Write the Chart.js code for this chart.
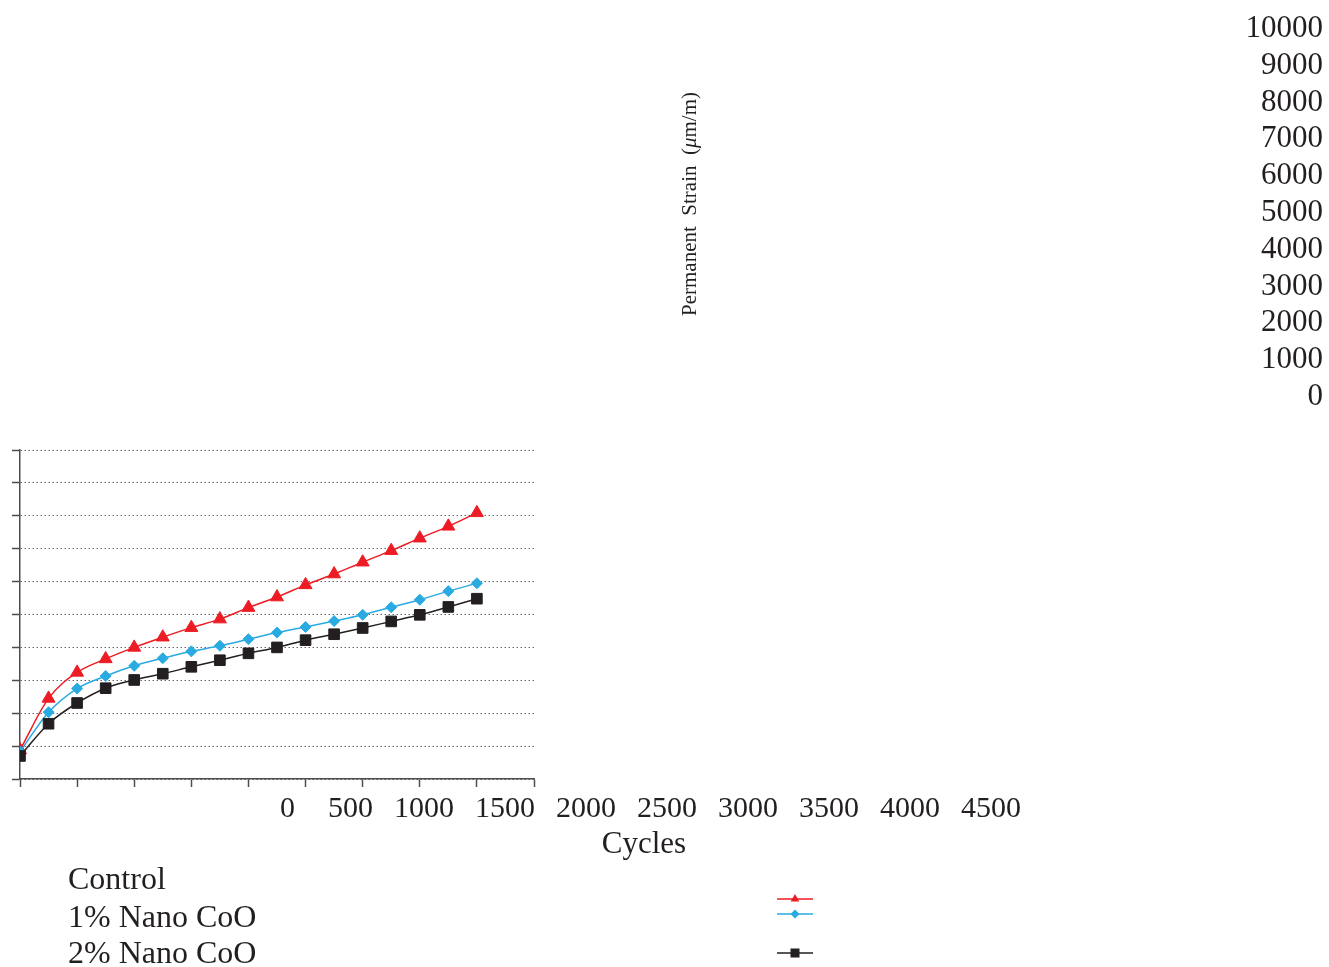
<!DOCTYPE html>
<html>
<head>
<meta charset="utf-8">
<script src="https://cdn.jsdelivr.net/npm/chart.js@4"></script>
<style>
  html, body { margin: 0; padding: 0; background: #fff; }
  #strainChart { display: block; }
</style>
</head>
<body>
<canvas id="strainChart" width="1329" height="967"></canvas>
<script>
// Cycle counts and permanent strain (um/m)
const cycles = [0, 250, 500, 750, 1000, 1250, 1500, 1750, 2000, 2250, 2500, 2750, 3000, 3250, 3500, 3750, 4000];
const control = [880, 2450, 3240, 3650, 4000, 4310, 4600, 4860, 5210, 5530, 5900, 6230, 6590, 6940, 7320, 7680, 8090];
const nano1 = [830, 2030, 2750, 3130, 3440, 3670, 3880, 4050, 4250, 4450, 4620, 4800, 4990, 5220, 5450, 5710, 5950];
const nano2 = [700, 1680, 2310, 2760, 3010, 3200, 3410, 3610, 3820, 4000, 4220, 4400, 4590, 4790, 4990, 5230, 5480];
const seriesNames = ['Control', '1% Nano CoO', '2% Nano CoO'];
const xTickLabels = [0, 500, 1000, 1500, 2000, 2500, 3000, 3500, 4000, 4500];
const yTickLabels = [0, 1000, 2000, 3000, 4000, 5000, 6000, 7000, 8000, 9000, 10000];

const serif = '"Liberation Serif", "Times New Roman", serif';
const ink = '#231f20';
const axisGrey = '#4d4d4d';
const colors = ['#ed1c24', '#29abe2', '#231f20'];
const styles = ['triangle', 'rectRot', 'rect'];
const radii = [7.5, 5.5, 7.5];

function toPoints(values) {
    return cycles.map((c, i) => ({ x: c, y: values[i] }));
}

// small marker for the legend rows
function drawMarker(c, style, x, y, r) {
    c.beginPath();
    if (style === 'triangle') {
        c.moveTo(x, y - r);
        c.lineTo(x + r * 0.866, y + r * 0.5);
        c.lineTo(x - r * 0.866, y + r * 0.5);
    } else if (style === 'rectRot') {
        c.moveTo(x, y - r);
        c.lineTo(x + r, y);
        c.lineTo(x, y + r);
        c.lineTo(x - r, y);
    } else {
        c.rect(x - r, y - r, 2 * r, 2 * r);
    }
    c.closePath();
    c.fill();
}

// the figure has its labels scattered away from the axes, drawn here
const looseLabels = {
    id: 'looseLabels',
    afterDraw(chart) {
        const c = chart.ctx;
        c.save();
        c.fillStyle = ink;
        c.textBaseline = 'alphabetic';

        // y tick labels stacked in the top right corner
        c.font = '31px ' + serif;
        c.textAlign = 'right';
        [...yTickLabels].reverse().forEach((v, i) => {
            c.fillText(String(v), 1323, 37 + i * 36.8);
        });

        // x tick labels in one row below the plot
        c.font = '30px ' + serif;
        c.textAlign = 'left';
        let x = 280;
        xTickLabels.forEach((v, i) => {
            const t = String(v);
            c.fillText(t, x, 817);
            x += c.measureText(t).width + (i === 0 ? 33 : 21);
        });

        // axis titles
        c.font = '31px ' + serif;
        c.textAlign = 'center';
        c.fillText('Cycles', 644, 853);

        c.save();
        c.translate(696, 204);
        c.rotate(-Math.PI / 2);
        const parts = [
            ['Permanent  Strain  (', '21px ' + serif],
            ['\u03bc', 'italic 21px ' + serif],
            ['m/m)', '21px ' + serif]
        ];
        let total = 0;
        parts.forEach(p => { c.font = p[1]; total += c.measureText(p[0]).width; });
        let px = -total / 2;
        c.textAlign = 'left';
        parts.forEach(p => {
            c.font = p[1];
            c.fillText(p[0], px, 0);
            px += c.measureText(p[0]).width;
        });
        c.restore();

        // legend: names on the left, keys far to the right
        const textBase = [889, 927, 963];
        const keyY = [899, 914, 953];
        const keyR = [5, 4.5, 4.5];
        c.font = '32px ' + serif;
        c.textAlign = 'left';
        seriesNames.forEach((name, i) => {
            c.fillStyle = ink;
            c.fillText(name, 68, textBase[i]);
            c.strokeStyle = colors[i];
            c.lineWidth = 1.5;
            c.beginPath();
            c.moveTo(777, keyY[i]);
            c.lineTo(813, keyY[i]);
            c.stroke();
            c.fillStyle = colors[i];
            drawMarker(c, styles[i], 795, keyY[i], keyR[i]);
        });
        c.restore();
    }
};

const allSeries = [control, nano1, nano2];
const datasets = allSeries.map((values, i) => ({
    label: seriesNames[i],
    data: toPoints(values),
    borderColor: colors[i],
    backgroundColor: colors[i],
    borderWidth: 1.5,
    pointStyle: styles[i],
    pointRadius: radii[i],
    pointBorderWidth: 1,
    pointBorderColor: colors[i],
    pointBackgroundColor: colors[i],
    cubicInterpolationMode: 'monotone',
    order: 3 - i
}));

const ctx = document.getElementById('strainChart').getContext('2d');
const strainChart = new Chart(ctx, {
    type: 'line',
    data: { datasets: datasets },
    options: {
        responsive: false,
        animation: false,
        layout: { padding: { left: 0, top: 450, right: 795, bottom: 0 } },
        plugins: {
            legend: { display: false },
            tooltip: { enabled: false }
        },
        scales: {
            x: {
                type: 'linear',
                min: xTickLabels[0],
                max: xTickLabels[xTickLabels.length - 1],
                ticks: { display: false, stepSize: 500 },
                grid: {
                    drawOnChartArea: false,
                    tickLength: 8,
                    tickColor: axisGrey,
                    tickWidth: 1.5
                },
                border: { color: axisGrey, width: 1.5 },
                afterFit: s => { s.height = 188; }
            },
            y: {
                min: yTickLabels[0],
                max: yTickLabels[yTickLabels.length - 1],
                ticks: { display: false, stepSize: 1000 },
                grid: {
                    color: '#666666',
                    lineWidth: 1,
                    tickLength: 8,
                    tickColor: axisGrey,
                    tickWidth: 1.5,
                    tickBorderDash: []
                },
                border: { color: axisGrey, width: 1.5, dash: [1.5, 2.5] },
                afterFit: s => { s.width = 20; }
            }
        }
    },
    plugins: [looseLabels]
});
</script>
</body>
</html>
